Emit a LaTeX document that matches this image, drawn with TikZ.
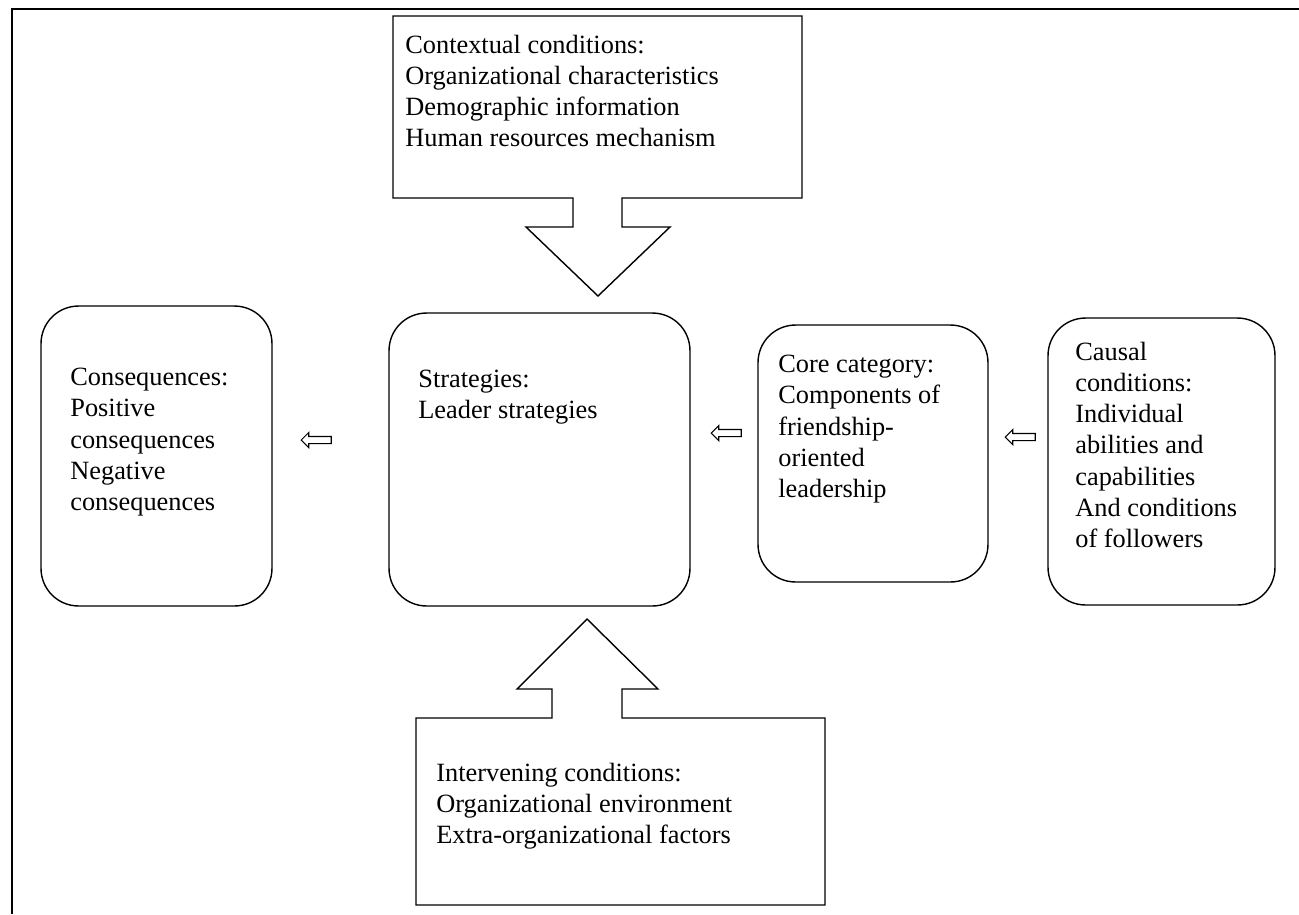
\documentclass[tikz,border=0pt]{standalone}
\usepackage{fontspec}
\setmainfont{Liberation Serif}
\usetikzlibrary{shapes.arrows}
\begin{document}
\begin{tikzpicture}[x=0.02cm, y=-0.02cm, boxStyle/.style={rectangle, draw, rounded corners=0.75cm, line width=0.8pt}, textStyle/.style={anchor=north west, align=left, inner sep=0pt, font=\fontsize{15}{17.7}\selectfont}, arrowStyle/.style={single arrow, draw, shape border rotate=180, minimum height=0.6cm, inner sep=0.06cm, single arrow head extend=0.08cm, line width=0.6pt}]
                    \useasboundingbox (0,0) rectangle (1299,914);
                    \draw[line width=1.7pt] (12,914) -- (12,9);
                    \draw[line width=1.1pt] (11,9) -- (1299,9);

                    % context box with its arrow down
                    \coordinate (ctx_tip) at (598,296);
                    \draw[line width=0.8pt] (393,16) -- (802,16) -- (802,198) -- (622,198) -- (622,227) -- (670,227) -- (ctx_tip) -- (526,227) -- (573,227) -- (573,198) -- (393,198) -- cycle;
                    \node[textStyle] (ctx_T) at (405,35) {Contextual conditions:\\Organizational characteristics\\Demographic information\\Human resources mechanism};

                    % intervening box with its arrow up
                    \coordinate (int_tip) at (587,619);
                    \draw[line width=0.8pt] (416,718) -- (552,718) -- (552,689) -- (517,689) -- (int_tip) -- (658,689) -- (622,689) -- (622,718) -- (825,718) -- (825,905) -- (416,905) -- cycle;
                    \node[textStyle] (int_T) at (436,763) {Intervening conditions:\\Organizational environment\\Extra-organizational factors};

                    \node[boxStyle, minimum width=4.62cm, minimum height=6cm]    (cons)   at ( 156.5, 456)   {};
                    \node[boxStyle, minimum width=6.02cm, minimum height=5.86cm] (strat)  at ( 539.5, 459.5) {};
                    \node[boxStyle, minimum width=4.6cm,  minimum height=5.14cm] (core)   at ( 873,   453.5) {};
                    \node[boxStyle, minimum width=4.54cm, minimum height=5.74cm] (causal) at (1161.5, 461.5) {};

                    \node[textStyle] (cons_T)   at (  70, 368) {Consequences:\\Positive\\consequences\\Negative\\consequences};
                    \node[textStyle] (strat_T)  at ( 418, 370) {Strategies:\\Leader strategies};
                    \node[textStyle] (core_T)   at ( 778, 355) {Core category:\\Components of\\friendship-\\oriented\\leadership};
                    \node[textStyle] (causal_T) at (1075, 342) {Causal\\conditions:\\Individual\\abilities and\\capabilities\\And conditions\\of followers};

                    \node[arrowStyle] (a_cons)  at ( 318, 440) {};
                    \node[arrowStyle] (a_strat) at ( 728, 433) {};
                    \node[arrowStyle] (a_core)  at (1022, 437) {};
                \end{tikzpicture}
\end{document}
